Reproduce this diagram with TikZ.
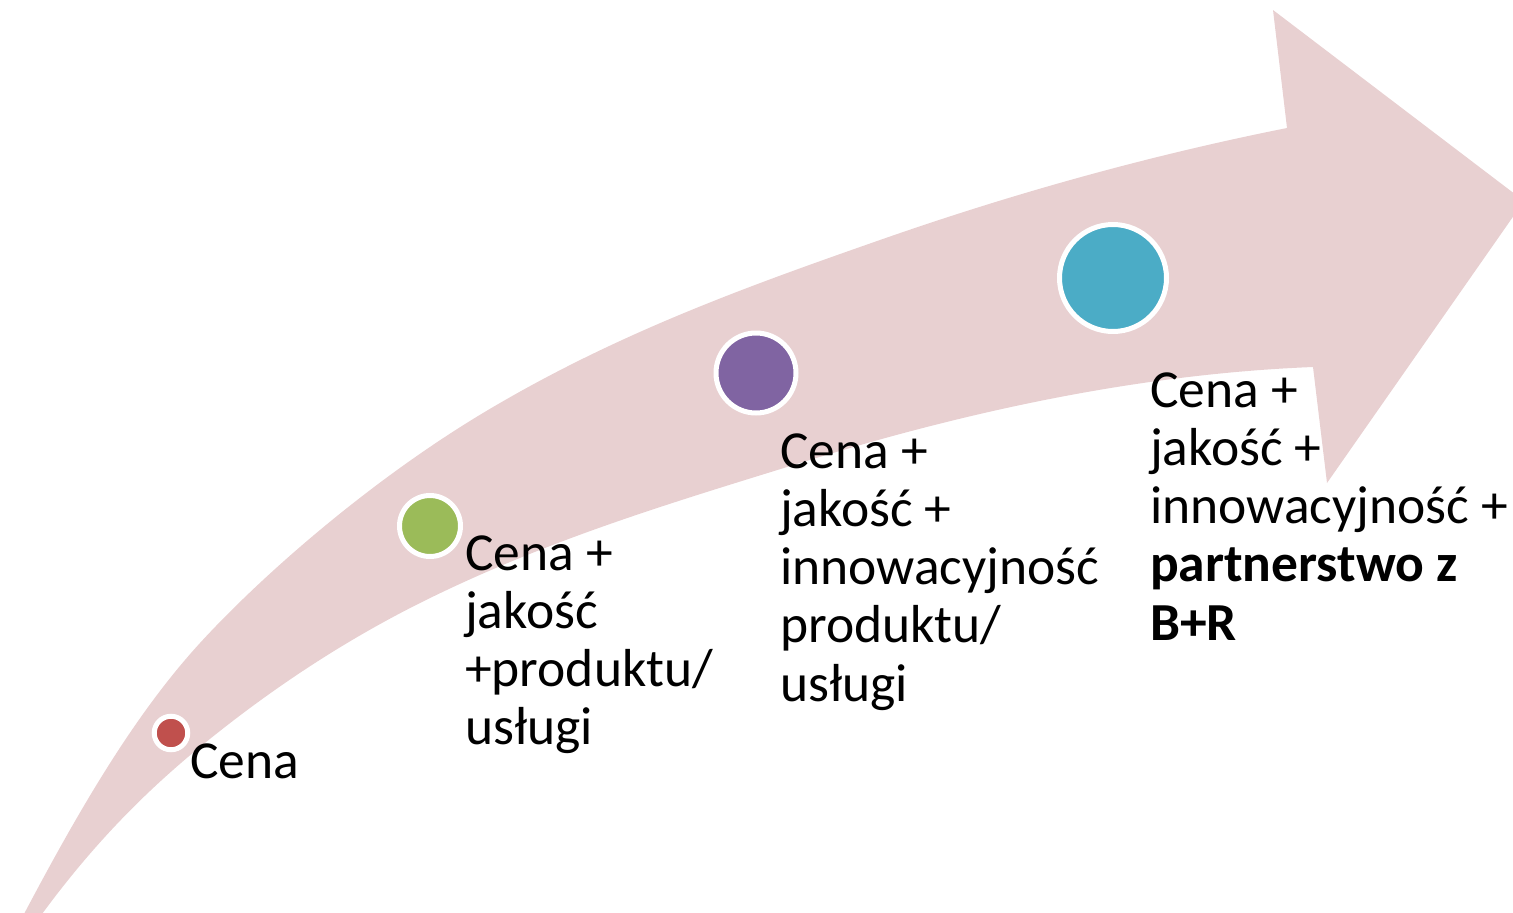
\documentclass[tikz,border=0pt]{standalone}
\usepackage{fontspec}
\setmainfont{Carlito}
\newcommand\stacklines[1]{\begin{tabular}[t]{@{}l@{}}#1\end{tabular}}
\definecolor{band}{HTML}{E8D0D1}
\definecolor{cred}{HTML}{C0504D}
\definecolor{cgreen}{HTML}{9BBB59}
\definecolor{cpurple}{HTML}{8064A2}
\definecolor{cteal}{HTML}{4BACC6}
\tikzset{
  dot/.style={circle, draw=white, line width=5pt, inner sep=0pt},
  lbl/.style={anchor=base west, inner sep=0pt, font=\fontsize{53.5}{58.3}\selectfont, text=black}
}
\begin{document}
\begin{tikzpicture}[x=1pt,y=-1pt]
\useasboundingbox (0,0) rectangle (1513,913);
\clip (0,0) rectangle (1513,913);
% curved arrow band
\fill[band] (24,914)
  .. controls (80,808) and (135,714) .. (200,643)
  .. controls (265,572) and (380,472) .. (500,403)
  .. controls (626.7,329.5) and (753.3,284.3) .. (880,240)
  .. controls (1015.7,192.5) and (1151.3,155.1) .. (1287,128)
  -- (1273,10) -- (1524,201) -- (1327,483) -- (1313,367)
  .. controls (1142,373.8) and (971,410) .. (800,463)
  .. controls (673.3,502.3) and (546.7,539.7) .. (420,603)
  .. controls (346.7,639.7) and (273.3,686.9) .. (200,747)
  .. controls (147.7,789.9) and (95.3,841.4) .. (42,914)
  -- cycle;
% stage markers
\node[dot, fill=cred, minimum size=33.5pt] (d1) at (171,733) {};
\node[dot, fill=cgreen, minimum size=61pt] (d2) at (430,526) {};
\node[dot, fill=cpurple, minimum size=80pt] (d3) at (756,373) {};
\node[dot, fill=cteal, minimum size=107pt] (d4) at (1113,278) {};
% labels
\node[lbl] (t1) at (190,778) {Cena};
\node[lbl] (t2) at (465,570) {\stacklines{Cena +\\ jakość\\ +produktu/\\ usługi}};
\node[lbl] (t3) at (780,468) {\stacklines{Cena +\\ jakość +\\ innowacyjność\\ produktu/\\ usługi}};
\node[lbl] (t4) at (1150,407) {\stacklines{Cena +\\ jakość +\\ innowacyjność +\\ \textbf{partnerstwo z}\\ \textbf{B+R}}};
\end{tikzpicture}
\end{document}
